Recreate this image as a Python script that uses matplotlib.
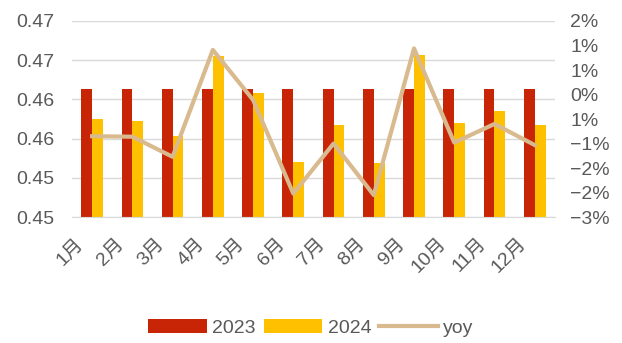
import numpy as np
import matplotlib.pyplot as plt
from matplotlib.ticker import FixedLocator
from matplotlib.transforms import ScaledTranslation

plt.rcParams['font.family'] = ['Liberation Sans', 'Noto Sans CJK SC', 'DejaVu Sans']

months = ['1月', '2月', '3月', '4月', '5月', '6月', '7月', '8月', '9月', '10月', '11月', '12月']
v2023 = [0.4663] * 12
v2024 = [0.4625, 0.4623, 0.4604, 0.4705, 0.4658, 0.4570, 0.4617, 0.4569, 0.4707, 0.4620, 0.4635, 0.4617]
yoy = [-0.35, -0.36, -0.77, 1.41, 0.39, -1.52, -0.50, -1.55, 1.44, -0.48, -0.10, -0.53]

left_ticks = [0.450, 0.455, 0.460, 0.465, 0.470, 0.475]
left_labels = ['0.45', '0.45', '0.46', '0.46', '0.47', '0.47']
right_ticks = [-2.0, -1.5, -1.0, -0.5, 0.0, 0.5, 1.0, 1.5, 2.0]
right_labels = ['\u22123%', '\u22122%', '\u22122%', '\u22121%', '1%', '0%', '1%', '1%', '2%']

red = '#C82506'
yellow = '#FFC000'
tan = '#D9B98E'
txt = '#595959'

fig = plt.figure(figsize=(6.22, 3.43), dpi=100)
ax = fig.add_axes([0.1158, 0.367, 0.7762, 0.5718])
x = np.arange(len(months))
w = 0.27
b1 = ax.bar(x - w / 2, v2023, w, color=red, label='2023', zorder=2)
b2 = ax.bar(x + w / 2, v2024, w, color=yellow, label='2024', zorder=2)
ax.set_ylim(0.450, 0.475)
ax.set_xlim(-0.5, 11.5)
ax.yaxis.set_major_locator(FixedLocator(left_ticks))
ax.set_yticklabels(left_labels)
ax.grid(axis='y', color='#D9D9D9', linewidth=1, zorder=0)
ax.set_axisbelow(True)
for s in ['top', 'right', 'left']:
    ax.spines[s].set_visible(False)
ax.spines['bottom'].set_color('#D9D9D9')
ax.set_xticks(x)
ax.set_xticklabels(months, rotation=45, ha='right', rotation_mode='anchor')
ax.tick_params(axis='both', length=0, labelsize=14, colors=txt)
ax.tick_params(axis='y', pad=13)
ax.tick_params(axis='x', pad=8)
off = ScaledTranslation(-0.17, -0.07, fig.dpi_scale_trans)
for t in ax.get_xticklabels():
    t.set_transform(t.get_transform() + off)

ax2 = ax.twinx()
l, = ax2.plot(x, yoy, color=tan, linewidth=3, label='yoy', zorder=3)
ax2.set_ylim(-2.0, 2.0)
ax2.yaxis.set_major_locator(FixedLocator(right_ticks))
ax2.set_yticklabels(right_labels)
ax2.tick_params(axis='y', length=0, labelsize=14, colors=txt, pad=11)
for s in ax2.spines.values():
    s.set_visible(False)

fig.legend(handles=[b1, b2, l], loc='center', bbox_to_anchor=(0.5, 0.045), ncol=3,
           frameon=False, fontsize=14, labelcolor=txt, handlelength=3.0, handleheight=0.75,
           handletextpad=0.3, columnspacing=0.4)

fig.savefig('out.png', dpi=100)
